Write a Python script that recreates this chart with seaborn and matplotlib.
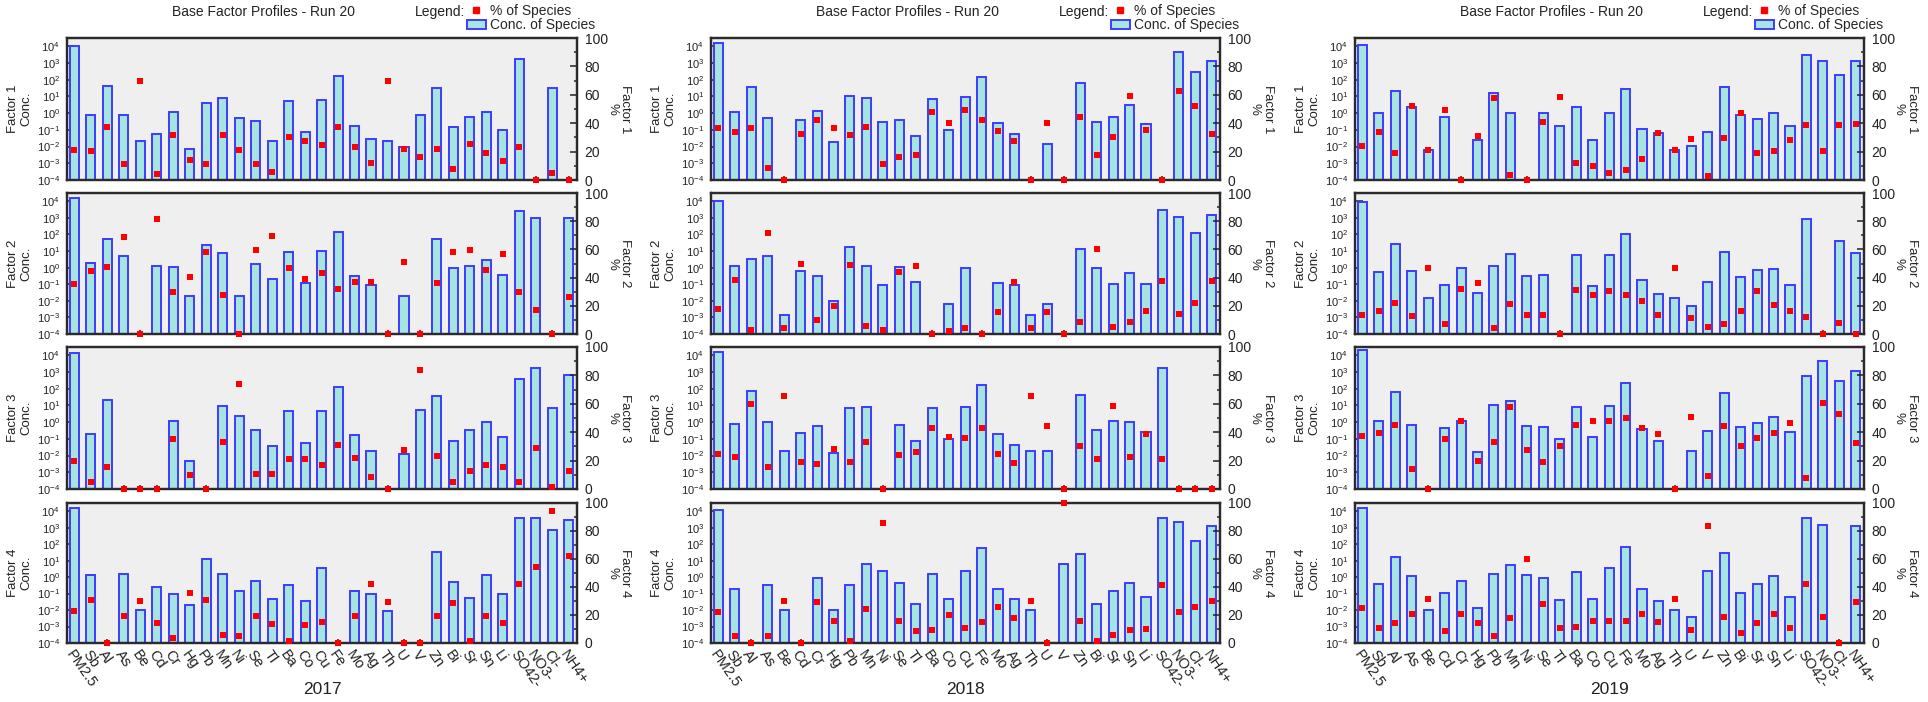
import numpy as np
import pandas as pd
import matplotlib
matplotlib.use("Agg")
import matplotlib.pyplot as plt
import seaborn as sns
from matplotlib.lines import Line2D
from matplotlib.patches import Patch
from matplotlib.ticker import LogLocator, NullLocator, MultipleLocator

nan = float("nan")

# ---------------- DATA ----------------
species = ["PM2.5", "Sb", "Al", "As", "Be", "Cd", "Cr", "Hg", "Pb", "Mn", "Ni", "Se", "Tl",
           "Ba", "Co", "Cu", "Fe", "Mo", "Ag", "Th", "U", "V", "Zn", "Bi", "Sr", "Sn", "Li",
           "SO42-", "NO3-", "Cl-", "NH4+"]
years = ["2017", "2018", "2019"]
factors = [1, 2, 3, 4]

# 2017
c17_f1 = [1e4, 0.8, 44, 0.8, 0.021, 0.055, 1.2, 0.007, 3.8, 8.3, 0.55, 0.33, 0.021, 5.5, 0.072, 6.3,
          160, 0.18, 0.029, 0.021, 0.01, 0.8, 32, 0.14, 0.6, 1.15, 0.1, 1800, nan, 32, nan]
p17_f1 = [21.4, 20.7, 37, 11, 70, 4, 32, 14, 11, 32, 21, 11, 5.6, 30, 27.5, 24.5, 37, 23, 12, 70,
          22, 16, 22, 8, 25.4, 19, 13.6, 23.5, 0, 5, 0]
c17_f2 = [1.5e4, 1.9, 55, 4.8, nan, 1.2, 1.1, 0.02, 22, 7.6, 0.02, 1.7, 0.22, 8.7, 0.12, 10, 145,
          0.3, 0.085, nan, 0.02, nan, 55, 1.0, 1.3, 2.8, 0.38, 2600, 950, nan, 950]
p17_f2 = [35.3, 44.7, 47.8, 69, 0, 81.4, 29.6, 40.7, 57.9, 28, 0, 59.5, 69.6, 47, 39, 43, 32, 37,
          37, 0, 51, 0, 36, 58, 59.5, 45.4, 57, 29.6, 17, 0, 26]
c17_f3 = [1.3e4, 0.19, 22, nan, nan, nan, 1.25, 0.005, nan, 9.5, 2.4, 0.32, 0.038, 4.4, 0.06, 4.4,
          126, 0.17, 0.02, nan, 0.0126, 5, 36, 0.076, 0.32, 1.05, 0.125, 360, 1660, 6.9, 630]
p17_f3 = [20, 4.7, 15.5, 0, 0, 0, 35, 10, 0, 33.4, 73.6, 10.8, 10.8, 21, 21, 17, 31.3, 22, 8.5, 0,
          27.3, 83.8, 23.3, 5.2, 13, 17, 15.5, 4.7, 28.7, 1.6, 13]
c17_f4 = [1.5e4, 1.26, nan, 1.5, 0.0095, 0.24, 0.1, 0.021, 13, 1.6, 0.15, 0.58, 0.05, 0.32, 0.036,
          3.8, nan, 0.15, 0.1, 0.0093, nan, nan, 32, 0.5, 0.055, 1.26, 0.1, 3800, 3800, 720, 2900]
p17_f4 = [23, 31, 0, 19.4, 30, 14.2, 3.6, 35.5, 31, 6, 4.7, 19, 13.7, 1.7, 12.8, 15, 0, 19, 42,
          29.4, 0, 0, 19, 28.7, 1.7, 19, 14.2, 42, 54, 94.3, 62]

# 2018
c18_f1 = [1.7e4, 1.15, 36, 0.5, nan, 0.4, 1.3, 0.018, 10, 8.3, 0.3, 0.4, 0.046, 7.2, 0.1, 9.5, 150,
          0.25, 0.06, nan, 0.015, nan, 60, 0.3, 0.6, 2.9, 0.21, nan, 4800, 300, 1380]
p18_f1 = [36.5, 34, 36.5, 8.2, 0, 32.5, 42.6, 36.5, 31.5, 37.4, 11.3, 16, 17.4, 48.2, 40.2, 49,
          42.6, 34.8, 27.8, 0, 40.2, 0, 44.2, 17.4, 30, 59, 35.5, 0, 63, 52, 32.5]
c18_f2 = [1.1e4, 1.3, 3.5, 4.8, 0.0014, 0.63, 0.3, 0.01, 17, 1.3, 0.085, 1.15, 0.13, nan, 0.0063,
          0.9, nan, 0.12, 0.085, 0.0014, 0.0063, nan, 12.6, 1.0, 0.1, 0.48, 0.1, 3000, 1150, 120, 1500]
p18_f2 = [17.6, 38.4, 3, 71.3, 4, 49.4, 9.6, 19.8, 48.7, 5.4, 3, 43.8, 48.5, 0, 2.4, 4, 0, 15.5,
          37, 4, 15.5, 0, 8.7, 60.5, 4.7, 8.7, 16.5, 37.6, 14, 22, 37.6]
c18_f3 = [1.5e4, 0.8, 70, 1.0, 0.02, 0.23, 0.6, 0.014, 7, 8.3, nan, 0.65, 0.08, 7, 0.1, 8.3, 165,
          0.19, 0.044, 0.02, 0.02, nan, 44, 0.35, 1.25, 1.0, 0.25, 1740, nan, nan, nan]
p18_f3 = [25, 22.6, 60, 15.8, 65.6, 18.8, 17.9, 28, 18.8, 33, 0, 24, 26.4, 43, 36.7, 36.2, 43, 25,
          18, 65.6, 44.7, 0, 30.4, 21, 58.6, 22.8, 38.4, 21, 0, 0, 0]
c18_f4 = [1.25e4, 0.19, nan, 0.33, 0.0095, nan, 0.9, 0.0095, 0.35, 6, 2.4, 0.42, 0.024, 1.5, 0.05,
          2.4, 60, 0.2, 0.045, 0.0095, nan, 6, 24, 0.024, 0.15, 0.42, 0.066, 4000, 2100, 165, 1260]
p18_f4 = [21.8, 5.2, 0, 5.2, 30.3, 0, 29.6, 16, 1.6, 24.4, 85.8, 16, 8.3, 9, 20, 10.7, 14.7, 25.4,
          17.8, 30.3, 0, 100, 15.4, 1.6, 6, 9, 10, 41.5, 22.5, 25.8, 30.3]

# 2019
c19_f1 = [1.2e4, 1.0, 22, 2.5, 0.0066, 0.57, nan, 0.026, 16, 1.0, nan, 1.0, 0.18, 2.2, 0.026, 1.0,
          28, 0.12, 0.063, 0.0066, 0.011, 0.076, 36, 0.76, 0.46, 1.0, 0.16, 3200, 1380, 200, 1380]
p19_f1 = [24, 34, 19, 52, 21.4, 49, 0, 31, 58, 3.8, 0, 40.5, 58.4, 12, 9.6, 5, 7.3, 14.6, 33.4,
          21.4, 29, 3, 29.6, 47.5, 19, 20.7, 28, 38.8, 20.7, 38.8, 39.5]
c19_f2 = [9000, 0.55, 26, 0.63, 0.014, 0.085, 0.9, 0.03, 1.2, 6.3, 0.3, 0.35, nan, 5.5, 0.076, 5.5,
          110, 0.19, 0.025, 0.014, 0.0048, 0.13, 9, 0.26, 0.76, 0.87, 0.085, 870, nan, 42, 7.6]
p19_f2 = [13.5, 16, 22, 13, 47, 7, 32, 36, 4, 21, 13.4, 13.4, 0, 31.3, 27.5, 30.6, 27.5, 23.5,
          13.5, 47, 11.5, 4.7, 7.3, 16.5, 30.6, 20.4, 16.5, 11.8, 0, 8, 0]
c19_f3 = [2e4, 1.25, 60, 0.7, nan, 0.43, 1.25, 0.017, 10, 19, 0.6, 0.5, 0.1, 8, 0.13, 9.5, 210,
          0.38, 0.076, nan, 0.02, 0.28, 58, 0.5, 0.9, 2, 0.26, 550, 4400, 290, 1100]
p19_f3 = [37.6, 39.5, 45.4, 14, 0, 35.3, 48.2, 19.5, 33, 57.4, 27.3, 18.8, 30.6, 45.4, 48, 48, 50,
          42.8, 38.4, 0, 51, 9.4, 44.7, 30.6, 36.2, 39.5, 46.4, 7.8, 60.5, 52.7, 32.2]
c19_f4 = [1.6e4, 0.36, 17, 1.2, 0.01, 0.11, 0.58, 0.013, 1.6, 5.5, 1.4, 0.87, 0.04, 2, 0.046, 3.5,
          70, 0.19, 0.035, 0.01, 0.004, 2.5, 30, 0.11, 0.37, 1.2, 0.066, 4000, 1380, nan, 1200]
p19_f4 = [25, 10.7, 14, 21, 31.3, 8.5, 20.4, 14, 5.2, 17.8, 60, 28, 10.7, 11.6, 15.4, 16, 15.4,
          20.4, 14.7, 31.3, 9.2, 83.4, 18.7, 6.9, 14, 20.4, 10.7, 42, 18.7, 0, 29]

conc = {
    ("2017", 1): c17_f1, ("2017", 2): c17_f2, ("2017", 3): c17_f3, ("2017", 4): c17_f4,
    ("2018", 1): c18_f1, ("2018", 2): c18_f2, ("2018", 3): c18_f3, ("2018", 4): c18_f4,
    ("2019", 1): c19_f1, ("2019", 2): c19_f2, ("2019", 3): c19_f3, ("2019", 4): c19_f4,
}
pct = {
    ("2017", 1): p17_f1, ("2017", 2): p17_f2, ("2017", 3): p17_f3, ("2017", 4): p17_f4,
    ("2018", 1): p18_f1, ("2018", 2): p18_f2, ("2018", 3): p18_f3, ("2018", 4): p18_f4,
    ("2019", 1): p19_f1, ("2019", 2): p19_f2, ("2019", 3): p19_f3, ("2019", 4): p19_f4,
}

# ---------------- STYLE ----------------
sns.set_style("ticks")
plt.rcParams["font.family"] = ["Liberation Sans", "DejaVu Sans"]
plt.rcParams["mathtext.fontset"] = "custom"
plt.rcParams["mathtext.rm"] = "Liberation Sans"
plt.rcParams["mathtext.it"] = "Liberation Sans:italic"
plt.rcParams["mathtext.default"] = "regular"

BAR_FILL = "#a6e4e1"
BAR_EDGE = "#3c3cff"
AX_BG = "#efefef"
SPINE = "#2b2b2b"
TXT = "#222222"

W, H = 1928, 702
fig = plt.figure(figsize=(W / 100, H / 100), dpi=100)

# panel frames in pixels
lefts = [67, 711, 1355]
rights = [577, 1220, 1864]
tops = [38, 193, 347, 503]
bottoms = [180, 334, 489, 643]


def box(l, t, r, b):
    return [l / W, 1 - b / H, (r - l) / W, (b - t) / H]


def draw_factor(ax, cvals, pvals, k, last_row, axw):
    df = pd.DataFrame({"species": species, "conc": cvals, "pct": pvals,
                       "pos": np.arange(len(species))})
    sns.barplot(data=df, x="species", y="conc", order=species, color=BAR_FILL, saturation=1,
                edgecolor=BAR_EDGE, linewidth=1.4, width=0.55, errorbar=None, ax=ax)
    ax.set_yscale("log")
    ax.set_ylim(1e-4, 10 ** 4.5)
    ax.set_facecolor(AX_BG)
    ax.yaxis.set_major_locator(LogLocator(base=10, numticks=20))
    ax.yaxis.set_minor_locator(NullLocator())
    ax.tick_params(axis="y", direction="in", length=5.5, width=1.1, labelsize=8,
                   colors=TXT, pad=5)
    ax.tick_params(axis="x", direction="in", length=3, width=1.1, colors=TXT)
    ax.set_ylabel(f"Factor {k}\nConc.", fontsize=9.5, color=TXT, linespacing=1.1)
    ax.yaxis.set_label_coords(-35 / axw, 0.5)
    ax.set_xlabel("")
    if last_row:
        ax.set_xticks(range(len(species)))
        ax.set_xticklabels(species, rotation=-55, ha="left", va="top",
                           rotation_mode="anchor", fontsize=10.5, color=TXT)
    else:
        ax.set_xticklabels([])

    ax2 = ax.twinx()
    sns.scatterplot(data=df, x="pos", y="pct", marker="s", color="red", s=20, linewidth=0,
                    ax=ax2, clip_on=False, zorder=5, legend=False)
    ax2.set_xlabel("")
    ax2.set_ylim(0, 100)
    ax2.yaxis.set_major_locator(MultipleLocator(20))
    ax2.yaxis.set_minor_locator(MultipleLocator(10))
    ax2.tick_params(axis="y", which="major", direction="in", length=5, width=1.1,
                    labelsize=10, colors=TXT, pad=5.5)
    ax2.tick_params(axis="y", which="minor", direction="in", length=2.5, width=1.1)
    ax2.set_ylabel(f"Factor {k}\n%", rotation=270, fontsize=9.5, color=TXT,
                   va="bottom", linespacing=1.1)
    ax2.yaxis.set_label_coords(1 + 29 / axw, 0.5)
    ax.set_xlim(-0.45, len(species) - 0.5)
    for a in (ax, ax2):
        for s in a.spines.values():
            s.set_color(SPINE)
            s.set_linewidth(1.6)
    return ax2


for j, yr in enumerate(years):
    axw = rights[j] - lefts[j]
    for i, k in enumerate(factors):
        ax = fig.add_axes(box(lefts[j], tops[i], rights[j], bottoms[i]))
        draw_factor(ax, conc[(yr, k)], pct[(yr, k)], k, i == len(factors) - 1, axw)

    # title, legend, year label per panel
    fig.text((lefts[j] + 197) / W, 1 - 12 / H, "Base Factor Profiles - Run 20",
             ha="center", va="center", fontsize=10, color=TXT)
    fig.text((lefts[j] + 348) / W, 1 - 12 / H, "Legend:", ha="left", va="center",
             fontsize=10, color=TXT)
    handles = [Line2D([0], [0], marker="s", color="red", linestyle="none", markersize=4.5),
               Patch(facecolor=BAR_FILL, edgecolor=BAR_EDGE, linewidth=1.4)]
    fig.legend(handles, ["% of Species", "Conc. of Species"], loc="upper left",
               bbox_to_anchor=((lefts[j] + 400) / W, 1 - 4 / H), frameon=False,
               fontsize=10, handlelength=1.35, handleheight=0.6, handletextpad=0.3,
               labelspacing=0.0, borderpad=0, borderaxespad=0)
    fig.text((lefts[j] + rights[j]) / 2 / W, 13 / H, yr, ha="center", va="center",
             fontsize=12.5, color=TXT)

fig.savefig("out.png", dpi=100, facecolor="white")
